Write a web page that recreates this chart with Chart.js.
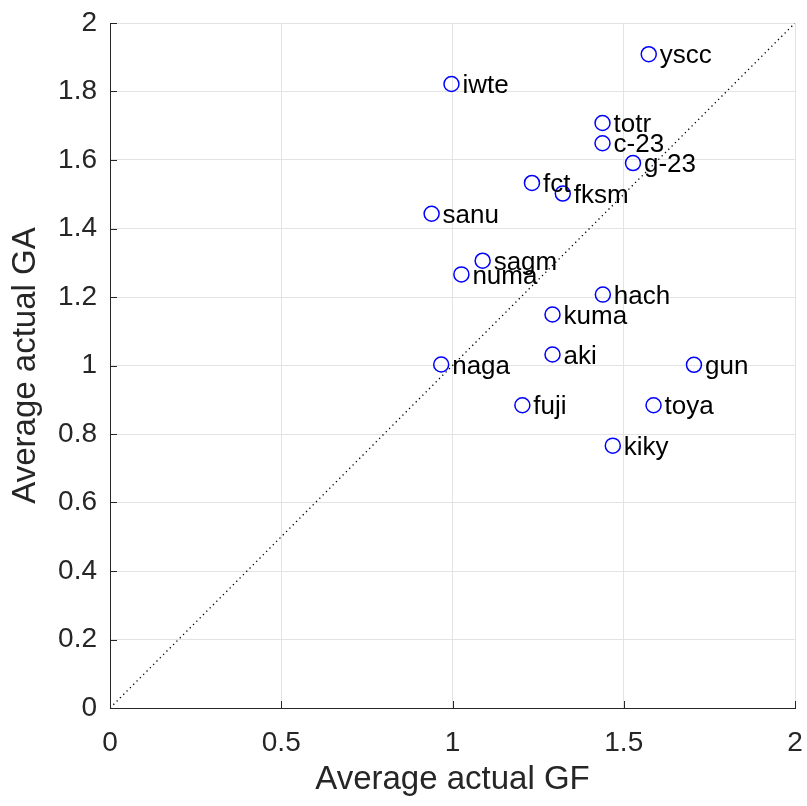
<!DOCTYPE html>
<html>
<head>
<meta charset="utf-8">
<script src="https://cdn.jsdelivr.net/npm/chart.js@4"></script>
<style>
  html, body { margin: 0; padding: 0; background: #fff; }
  #c { display: block; }
</style>
</head>
<body>
<canvas id="c" width="807" height="806"></canvas>
<script>
// team names and their average GF / GA
const teams = ["yscc", "iwte", "totr", "c-23", "g-23", "fct", "fksm", "sanu", "sagm",
  "numa", "hach", "kuma", "aki", "naga", "gun", "fuji", "toya", "kiky"];
const avgGF = [1.573, 0.997, 1.438, 1.438, 1.527, 1.232, 1.322, 0.939, 1.088,
  1.026, 1.439, 1.292, 1.292, 0.967, 1.705, 1.204, 1.587, 1.468];
const avgGA = [1.909, 1.822, 1.708, 1.649, 1.591, 1.533, 1.502, 1.443, 1.306,
  1.266, 1.207, 1.149, 1.032, 1.003, 1.002, 0.884, 0.884, 0.766];

// diagonal reference line (GF = GA)
const diagX = [0, 2];
const diagY = [0, 2];

const xTickLabels = ["0", "0.5", "1", "1.5", "2"];
const yTickLabels = ["0", "0.2", "0.4", "0.6", "0.8", "1", "1.2", "1.4", "1.6", "1.8", "2"];

const FONT = "'Liberation Sans', Arial, Helvetica, sans-serif";
const AXIS_COLOR = "#262626";
const GRID_COLOR = "#e3e3e3";

// inside tick marks on left / bottom axes (matlab style)
const innerTicks = {
  id: "innerTicks",
  afterDatasetsDraw(chart) {
    const { ctx, chartArea: a, scales } = chart;
    ctx.save();
    ctx.strokeStyle = AXIS_COLOR;
    ctx.lineWidth = 1;
    ctx.beginPath();
    scales.x.ticks.forEach((t) => {
      const px = Math.round(scales.x.getPixelForValue(t.value)) + 0.5;
      ctx.moveTo(px, a.bottom);
      ctx.lineTo(px, a.bottom - 7);
    });
    scales.y.ticks.forEach((t) => {
      const py = Math.round(scales.y.getPixelForValue(t.value)) + 0.5;
      ctx.moveTo(a.left, py);
      ctx.lineTo(a.left + 7, py);
    });
    ctx.stroke();
    ctx.restore();
  },
};

// team name next to each circle
const pointNames = {
  id: "pointNames",
  afterDatasetsDraw(chart) {
    const { ctx, scales } = chart;
    ctx.save();
    ctx.font = "26px " + FONT;
    ctx.fillStyle = "#000";
    ctx.textBaseline = "middle";
    ctx.textAlign = "left";
    teams.forEach((name, i) => {
      const px = scales.x.getPixelForValue(avgGF[i]);
      const py = scales.y.getPixelForValue(avgGA[i]);
      ctx.fillText(name, px + 11, py + 2);
    });
    ctx.restore();
  },
};

new Chart(document.getElementById("c"), {
  type: "scatter",
  data: {
    datasets: [
      {
        type: "line",
        data: diagX.map((x, i) => ({ x, y: diagY[i] })),
        borderColor: "#000",
        borderWidth: 1.3,
        borderDash: [1.3, 3.4],
        pointRadius: 0,
        fill: false,
      },
      {
        data: teams.map((_, i) => ({ x: avgGF[i], y: avgGA[i] })),
        pointStyle: "circle",
        pointRadius: 7.5,
        borderColor: "#0000ff",
        backgroundColor: "rgba(0,0,0,0)",
        borderWidth: 1.5,
      },
    ],
  },
  options: {
    responsive: false,
    animation: false,
    layout: { padding: { top: 23, right: 12, left: 0, bottom: 0 } },
    plugins: { legend: { display: false }, tooltip: { enabled: false } },
    scales: {
      x: {
        type: "linear",
        min: 0,
        max: 2,
        afterBuildTicks: (s) => { s.ticks = xTickLabels.map((l) => ({ value: Number(l) })); },
        afterFit: (s) => {
          s.height = 98;
          s.paddingLeft = 0;
          s.paddingRight = 0;
        },
        grid: { color: GRID_COLOR, drawTicks: false },
        border: { color: AXIS_COLOR, width: 1 },
        ticks: {
          padding: 18,
          color: AXIS_COLOR,
          font: { family: FONT, size: 28 },
          maxRotation: 0,
          callback: (v, i) => xTickLabels[i],
        },
        title: {
          display: true,
          text: "Average actual GF",
          color: AXIS_COLOR,
          font: { family: FONT, size: 33 },
          padding: { top: 0, bottom: 6 },
        },
      },
      y: {
        type: "linear",
        min: 0,
        max: 2,
        afterBuildTicks: (s) => { s.ticks = yTickLabels.map((l) => ({ value: Number(l) })); },
        afterFit: (s) => {
          s.width = 110;
          s.paddingTop = 0;
          s.paddingBottom = 0;
        },
        grid: { color: GRID_COLOR, drawTicks: false },
        border: { color: AXIS_COLOR, width: 1 },
        ticks: {
          padding: 13,
          color: AXIS_COLOR,
          font: { family: FONT, size: 28 },
          callback: (v, i) => yTickLabels[i],
        },
        title: {
          display: true,
          text: "Average actual GA",
          color: AXIS_COLOR,
          font: { family: FONT, size: 33 },
          padding: { top: 6, bottom: 0 },
        },
      },
    },
  },
  plugins: [innerTicks, pointNames],
});
</script>
</body>
</html>
